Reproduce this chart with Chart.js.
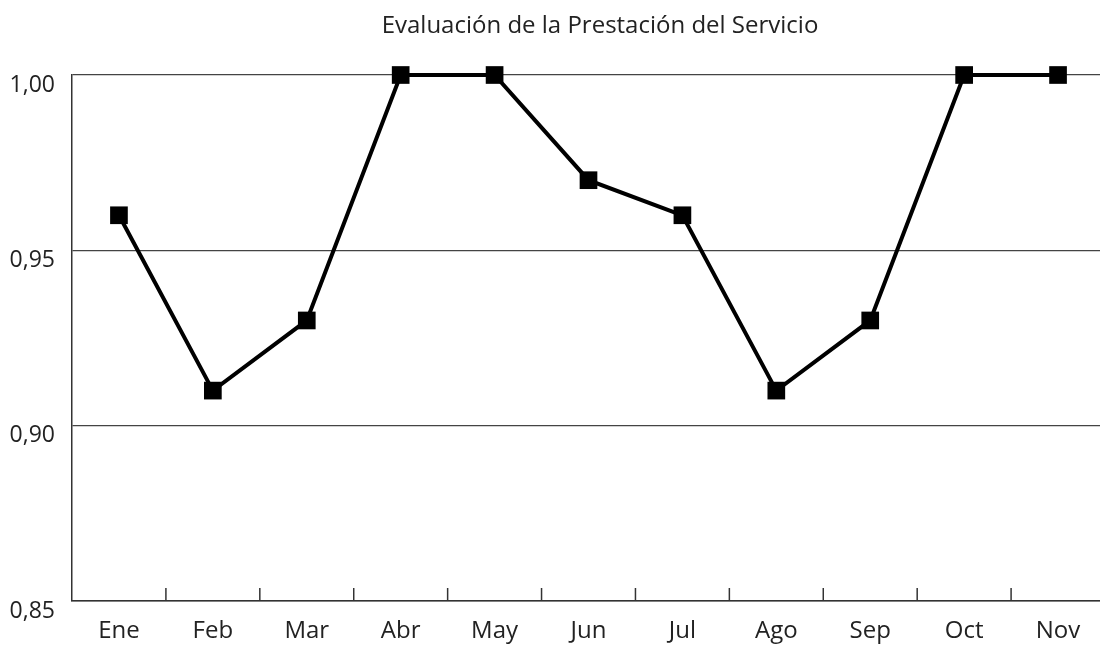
<!DOCTYPE html>
<html>
<head>
<meta charset="utf-8">
<script src="https://cdn.jsdelivr.net/npm/chart.js@4/dist/chart.umd.min.js"></script>
<style>
    html, body { margin: 0; padding: 0; background: #fff; overflow: hidden; }
    #wrap { width: 1100px; height: 651px; overflow: hidden; }
</style>
</head>
<body>
<div id="wrap"><canvas id="evalChart" width="1110" height="651"></canvas></div>
<script>
// datos
const meses = ["Ene", "Feb", "Mar", "Abr", "May", "Jun", "Jul", "Ago", "Sep", "Oct", "Nov"];
const evaluacion = [0.96, 0.91, 0.93, 1.00, 1.00, 0.97, 0.96, 0.91, 0.93, 1.00, 1.00];
const yTicks = [0.85, 0.90, 0.95, 1.00];
const titulo = "Evaluación de la Prestación del Servicio";

// marcas cortas hacia dentro entre categorias
const innerTicks = {
    id: "innerTicks",
    afterDraw(chart) {
        const x = chart.scales.x;
        const bottom = chart.chartArea.bottom;
        const ctx = chart.ctx;
        ctx.save();
        ctx.strokeStyle = "#333";
        ctx.lineWidth = 1.5;
        for (let i = 1; i < meses.length; i++) {
            const px = (x.getPixelForValue(i - 1) + x.getPixelForValue(i)) / 2;
            ctx.beginPath();
            ctx.moveTo(px, bottom);
            ctx.lineTo(px, bottom - 13);
            ctx.stroke();
        }
        ctx.restore();
    }
};

// titulo un poco corrido a la derecha, como en el original
const tituloPlugin = {
    id: "tituloPlugin",
    afterDraw(chart) {
        const ctx = chart.ctx;
        ctx.save();
        ctx.fillStyle = "#222";
        ctx.font = "24px 'Open Sans'";
        ctx.textAlign = "center";
        ctx.textBaseline = "alphabetic";
        ctx.fillText(titulo, 600, 33);
        ctx.restore();
    }
};

const ctx = document.getElementById("evalChart").getContext("2d");
new Chart(ctx, {
    type: "line",
    data: {
        labels: meses,
        datasets: [{
            label: "Evaluación",
            data: evaluacion,
            borderColor: "#000",
            backgroundColor: "#000",
            borderWidth: 4,
            pointStyle: "rect",
            pointRadius: 12.5,
            pointBorderWidth: 0,
            tension: 0,
            clip: false
        }]
    },
    options: {
        responsive: false,
        animation: false,
        layout: {
            autoPadding: false,
            padding: { left: 0, right: 5, top: 75, bottom: 0 }
        },
        plugins: {
            legend: { display: false },
            tooltip: { enabled: false },
            title: { display: false }
        },
        scales: {
            x: {
                offset: true,
                afterFit(axis) {
                    axis.height = 50;
                    axis.paddingLeft = 0;
                    axis.paddingRight = 0;
                },
                grid: { display: false, drawTicks: false },
                border: { display: true, color: "#333", width: 1.5 },
                ticks: {
                    color: "#222",
                    padding: 16,
                    maxRotation: 0,
                    font: { family: "'Open Sans'", size: 24 }
                }
            },
            y: {
                min: 0.85,
                max: 1.00,
                afterBuildTicks(axis) {
                    axis.ticks = yTicks.map(v => ({ value: v }));
                },
                afterFit(axis) { axis.width = 72; },
                grid: {
                    color: "#444",
                    lineWidth: 1.3,
                    drawTicks: false
                },
                border: { display: true, color: "#333", width: 1.5 },
                ticks: {
                    color: "#222",
                    padding: 17,
                    labelOffset: 10,
                    font: { family: "'Open Sans'", size: 23 },
                    callback: v => v.toFixed(2).replace(".", ",")
                }
            }
        }
    },
    plugins: [innerTicks, tituloPlugin]
});
</script>
</body>
</html>
